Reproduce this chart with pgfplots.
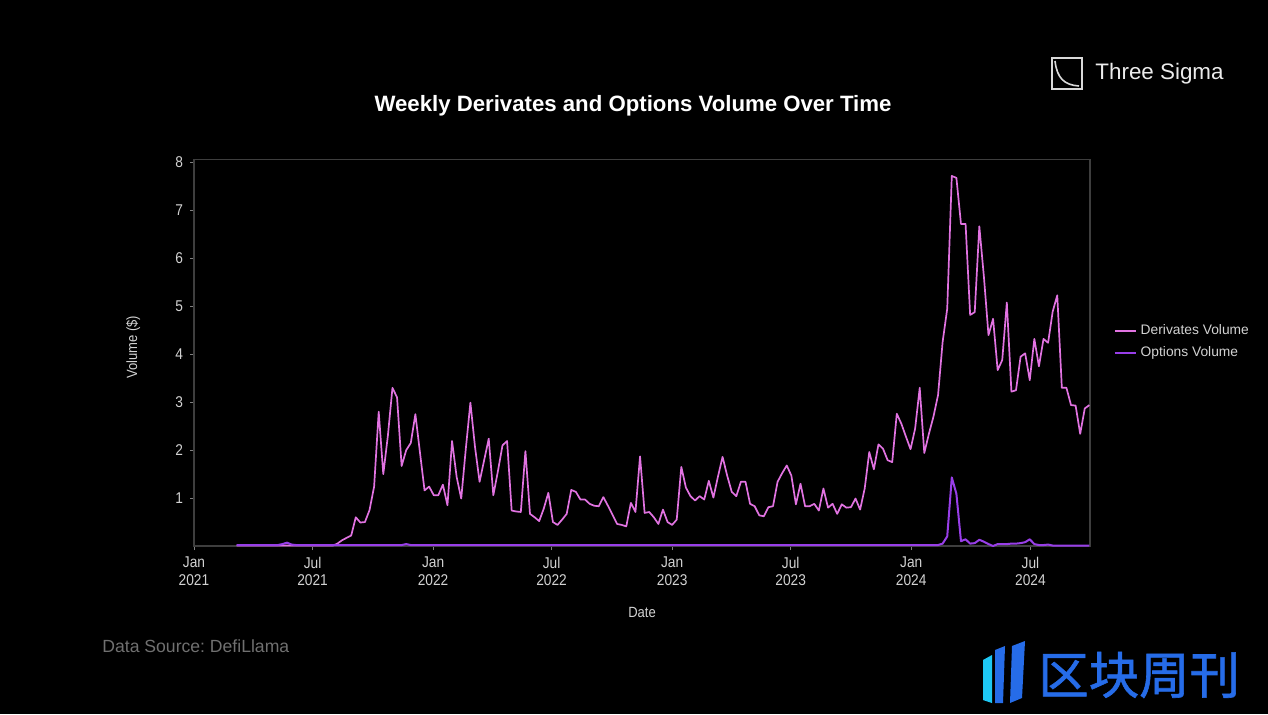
\documentclass[border=0pt]{standalone}
\usepackage{fontspec}
\setmainfont{Liberation Sans}
\newfontfamily\narrow[FakeStretch=0.88]{Liberation Sans}
\newfontfamily\cjk[FakeBold=1.2]{Noto Sans CJK SC}
\usepackage{pgfplots}
\pgfplotsset{compat=1.18}
\usepackage{pgfplotstable}
\frenchspacing

\definecolor{derc}{RGB}{225,115,225}
\definecolor{optc}{RGB}{152,62,232}
\definecolor{framec}{RGB}{62,62,62}
\definecolor{tickc}{RGB}{210,210,210}
\definecolor{srcc}{RGB}{112,112,112}
\definecolor{cnblue}{RGB}{38,108,232}
\definecolor{cncyan}{RGB}{30,200,245}

% day = days since 2021-01-01 (weekly, Sundays); values in units of 1e10 $
\pgfplotstableread{
day der opt
65 0.01 0.02
72 0.01 0.02
79 0.01 0.02
86 0.01 0.02
93 0.01 0.02
100 0.01 0.02
107 0.01 0.02
114 0.01 0.02
121 0.01 0.02
128 0.01 0.02
135 0.01 0.04
142 0.01 0.07
149 0.01 0.03
156 0.01 0.02
163 0.01 0.02
170 0.01 0.02
177 0.01 0.02
184 0.01 0.02
191 0.01 0.02
198 0.01 0.02
205 0.01 0.02
212 0.01 0.02
219 0.05 0.02
226 0.12 0.02
233 0.17 0.02
240 0.22 0.02
247 0.60 0.02
254 0.49 0.02
261 0.50 0.02
268 0.75 0.02
275 1.24 0.02
282 2.80 0.02
289 1.50 0.02
296 2.30 0.02
303 3.30 0.02
310 3.10 0.02
317 1.67 0.02
324 2.00 0.04
331 2.15 0.02
338 2.75 0.02
345 1.95 0.02
352 1.16 0.02
359 1.24 0.02
366 1.06 0.02
373 1.06 0.02
380 1.28 0.02
387 0.85 0.02
394 2.19 0.02
401 1.44 0.02
408 0.99 0.02
415 2.03 0.02
422 2.99 0.02
429 2.07 0.02
436 1.34 0.02
443 1.79 0.02
450 2.24 0.02
457 1.06 0.02
464 1.56 0.02
471 2.10 0.02
478 2.19 0.02
485 0.74 0.02
492 0.72 0.02
499 0.71 0.02
506 1.98 0.02
513 0.67 0.02
520 0.60 0.02
527 0.52 0.02
534 0.78 0.02
541 1.11 0.02
548 0.50 0.02
555 0.44 0.02
562 0.55 0.02
569 0.67 0.02
576 1.17 0.02
583 1.13 0.02
590 0.97 0.02
597 0.97 0.02
604 0.88 0.02
611 0.84 0.02
618 0.83 0.02
625 1.02 0.02
632 0.84 0.02
639 0.65 0.02
646 0.46 0.02
653 0.44 0.02
660 0.41 0.02
667 0.90 0.02
674 0.71 0.02
681 1.87 0.02
688 0.69 0.02
695 0.71 0.02
702 0.60 0.02
709 0.46 0.02
716 0.76 0.02
723 0.50 0.02
730 0.44 0.02
737 0.55 0.02
744 1.65 0.02
751 1.22 0.02
758 1.04 0.02
765 0.95 0.02
772 1.04 0.02
779 0.97 0.02
786 1.36 0.02
793 1.01 0.02
800 1.45 0.02
807 1.86 0.02
814 1.47 0.02
821 1.13 0.02
828 1.04 0.02
835 1.34 0.02
842 1.34 0.02
849 0.88 0.02
856 0.83 0.02
863 0.64 0.02
870 0.62 0.02
877 0.81 0.02
884 0.83 0.02
891 1.34 0.02
898 1.52 0.02
905 1.68 0.02
912 1.47 0.02
919 0.87 0.02
926 1.30 0.02
933 0.83 0.02
940 0.83 0.02
947 0.88 0.02
954 0.74 0.02
961 1.20 0.02
968 0.80 0.02
975 0.88 0.02
982 0.67 0.02
989 0.87 0.02
996 0.80 0.02
1003 0.81 0.02
1010 0.99 0.02
1017 0.76 0.02
1024 1.20 0.02
1031 1.96 0.02
1038 1.60 0.02
1045 2.12 0.02
1052 2.03 0.02
1059 1.79 0.02
1066 1.75 0.02
1073 2.76 0.02
1080 2.55 0.02
1087 2.28 0.02
1094 2.02 0.02
1101 2.45 0.02
1108 3.30 0.02
1115 1.94 0.02
1122 2.34 0.02
1129 2.70 0.02
1136 3.15 0.02
1143 4.26 0.05
1150 4.95 0.20
1157 7.72 1.43
1164 7.68 1.09
1171 6.72 0.10
1178 6.72 0.14
1185 4.82 0.05
1192 4.88 0.06
1199 6.67 0.13
1206 5.62 0.09
1213 4.40 0.04
1220 4.74 0.00
1227 3.67 0.04
1234 3.88 0.04
1241 5.08 0.04
1248 3.22 0.05
1255 3.25 0.05
1262 3.95 0.06
1269 4.02 0.08
1276 3.46 0.14
1283 4.32 0.04
1290 3.75 0.02
1297 4.32 0.02
1304 4.24 0.03
1311 4.89 0.01
1318 5.23 0.01
1325 3.30 0.01
1332 3.30 0.01
1339 2.94 0.01
1346 2.93 0.01
1353 2.34 0.01
1360 2.87 0.01
1367 2.94 0.01
}\datatable

\begin{document}
\begin{tikzpicture}
\fill[black] (0,0) rectangle (634pt,357pt);

\begin{axis}[
  at={(97pt,84pt)}, anchor=south west,
  scale only axis, width=448pt, height=193.4pt,
  xmin=0, xmax=1368, ymin=0, ymax=8.07,
  axis line style={framec, line width=0.6pt},
  tick pos=left, tick align=outside, major tick length=2pt,
  tick style={color=gray, line width=0.5pt},
  xtick={0,181,365,546,730,911,1095,1277},
  xticklabels={Jan\\2021,Jul\\2021,Jan\\2022,Jul\\2022,Jan\\2023,Jul\\2023,Jan\\2024,Jul\\2024},
  xticklabel style={align=center, text=tickc, font=\narrow\fontsize{7.8}{8.6}\selectfont},
  ytick={1,2,3,4,5,6,7,8},
  yticklabel style={text=tickc, font=\narrow\fontsize{7.8}{8.6}\selectfont},
  /pgf/number format/assume math mode=true,
  xlabel={Date}, ylabel={Volume (\$)},
  xlabel style={at={(axis description cs:0.5,-0.172)}, anchor=center, text=tickc, font=\narrow\fontsize{7.4}{8}\selectfont},
  ylabel style={at={(axis description cs:-0.068,0.514)}, anchor=center, text=tickc, font=\narrow\fontsize{7.4}{8}\selectfont},
  legend style={at={(1.024,0.528)}, anchor=west, draw=none, fill=none, text=tickc,
    font=\fontsize{6.9}{8}\selectfont, row sep=0.6pt, inner sep=1pt},
  legend cell align=left,
  legend image code/.code={\draw[#1, line width=0.9pt] (0pt,0pt) -- (10.5pt,0pt);},
]
\addplot[derc, line width=0.85pt, line join=round] table[x=day, y=der] {\datatable};
\addlegendentry{Derivates Volume}
\addplot[optc, line width=1pt, line join=round] table[x=day, y=opt] {\datatable};
\addlegendentry{Options Volume}
\node[anchor=base west, inner sep=0pt, text=tickc, font=\narrow\fontsize{7.8}{8.6}\selectfont] at (rel axis cs:0,1) [yshift=4pt] {1e10};
\end{axis}

% title
\node[anchor=base, inner sep=0pt, text=white, font=\bfseries\fontsize{11.1}{13}\selectfont] at (316.5pt,301.2pt) {Weekly Derivates and Options Volume Over Time};

% Three Sigma logo
\draw[white!85!black, line width=1.1pt] (526pt,312.5pt) rectangle (541pt,328pt);
\draw[white!85!black, line width=0.8pt] (527.5pt,326.5pt) .. controls (528.5pt,318pt) and (532pt,314.5pt) .. (539.5pt,314pt);
\node[anchor=west, inner sep=0pt, text=white!92!black, font=\fontsize{11.2}{12}\selectfont] at (547.5pt,320pt) {Three Sigma};

% source
\node[anchor=base west, inner sep=0pt, text=srcc, font=\fontsize{8.8}{10}\selectfont] at (51pt,31pt) {Data Source: DefiLlama};

% watermark
\fill[cncyan] (491.5pt,27pt) -- (496pt,29.5pt) -- (496pt,5.5pt) -- (491.5pt,7pt) -- cycle;
\fill[cnblue] (497.5pt,32pt) -- (502.5pt,34pt) -- (501.5pt,5.5pt) -- (497.5pt,5.5pt) -- cycle;
\fill[cnblue] (506pt,34pt) -- (512.5pt,36.5pt) -- (511pt,8pt) -- (505pt,5.5pt) -- cycle;
\node[anchor=west, inner sep=0pt, text=cnblue, font=\cjk\fontsize{25.2}{27}\selectfont] at (519pt,19.5pt) {区块周刊};

\pgfresetboundingbox
\path[use as bounding box] (0,0) rectangle (634pt,357pt);
\end{tikzpicture}
\end{document}
